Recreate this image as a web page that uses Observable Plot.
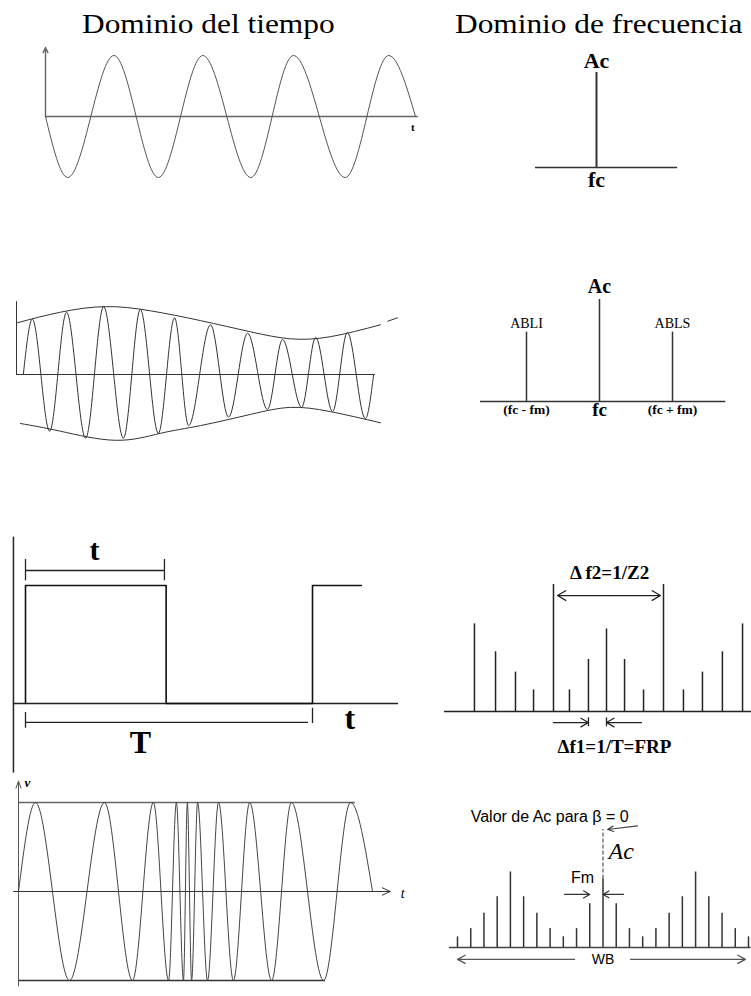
<!DOCTYPE html>
<html><head><meta charset="utf-8">
<script src="https://cdn.jsdelivr.net/npm/d3@7"></script>
<script src="https://cdn.jsdelivr.net/npm/@observablehq/plot@0.6"></script>
<style>
body{margin:0;background:#fff;}
#page{position:relative;width:751px;height:996px;overflow:hidden;background:#fff;}
#page svg{position:absolute;left:0;top:0;}
.title{position:absolute;font-family:"Liberation Serif","Times New Roman",serif;font-size:28px;line-height:1;white-space:nowrap;transform:scaleX(1.12);transform-origin:0 0;color:#000;}
</style></head><body><div id="page"></div>
<script>
// ---------- DATA ----------
const titles = ["Dominio del tiempo", "Dominio de frecuencia"];

// 1) Unmodulated carrier, time domain (extremes, in carrier periods)
const carrierT = [0, 0.24, 0.74, 1.22, 1.70, 2.22, 2.68, 3.24, 3.71, 4.0];
const carrierV = [0, -1, 1, -1, 1, -1, 1, -1, 1, 0];

// 2) Carrier spectrum
const carrierSpecF = [0];
const carrierSpecA = [1];

// 3) AM waveform: carrier extremes and envelopes
const amT = [1.9, 4.4, 9.2, 13.9, 19.2, 24.2, 29.7, 34.4, 39.4, 43.9, 47.8, 53.9, 58.9, 64.2, 69.7, 73.9, 79.2, 83.1, 87.8, 91.9, 96.9, 99.2];
const amV = [0, 0.79, -0.81, 0.89, -0.91, 0.97, -0.91, 0.93, -0.84, 0.81, -0.73, 0.71, -0.61, 0.59, -0.50, 0.50, -0.47, 0.53, -0.53, 0.60, -0.63, 0];
const envUpperT = [0.3, 12.2, 24.7, 37.2, 51.1, 65, 76.1, 87.2, 101.1];
const envUpperV = [0.74, 0.89, 0.97, 0.91, 0.77, 0.61, 0.51, 0.54, 0.71];
const envTailT = [103.1, 105.8];
const envTailV = [0.76, 0.81];
const envLowerT = [1.1, 12.2, 27.5, 40, 51.1, 65, 76.1, 87.2, 101.1];
const envLowerV = [-0.70, -0.81, -0.94, -0.84, -0.73, -0.57, -0.47, -0.53, -0.69];

// 4) AM spectrum
const amSpecF = [-1, 0, 1];
const amSpecA = [0.68, 1, 0.68];
const amSideNames = ["ABLI", "ABLS"];
const amSideF = [-1, 1];
const amSideA = [0.68, 0.68];
const amCarrierName = "Ac";
const amSideFreqLabels = ["(fc - fm)", "(fc + fm)"];
const amCarrierFreqLabel = "fc";

// 5) Pulse train (time in periods T)
const pulseT = [0, 0, 0.49, 0.49, 1, 1, 1.17];
const pulseV = [0, 1, 1, 0, 0, 1, 1];
const pulseWidth = 0.49;
const pulsePeriod = 1;

// 6) Pulse spectrum (harmonic index, relative amplitude)
const pulseSpecF = [-6.95, -5.84, -4.79, -3.84, -2.79, -1.95, -0.95, 0, 0.95, 1.95, 3.0, 4.05, 5.05, 6.1, 7.16];
const pulseSpecA = [0.69, 0.47, 0.31, 0.17, 1.0, 0.17, 0.41, 0.65, 0.41, 0.17, 1.0, 0.17, 0.31, 0.47, 0.69];

// 7) FM waveform extremes (normalized time)
const fmT = [0, 0.048, 0.144, 0.243, 0.322, 0.381, 0.424, 0.446, 0.466, 0.477, 0.489, 0.506, 0.534, 0.565, 0.607, 0.653, 0.715, 0.771, 0.862, 0.938, 1.0];
const fmV = [0, 1, -1, 1, -1, 1, -1, 1, -1, 1, -1, 1, -1, 1, -1, 1, -1, 1, -1, 1, 0];

// 8) FM spectrum (Bessel side bands)
const fmSpecN = [-11, -10, -9, -8, -7, -6, -5, -4, -3, -2, -1, 0, 1, 2, 3, 4, 5, 6, 7, 8, 9, 10, 11];
const fmSpecA = [0.09, 0.16, 0.29, 0.43, 0.64, 0.43, 0.29, 0.16, 0.09, 0.16, 0.37, 0.58, 0.37, 0.16, 0.09, 0.16, 0.29, 0.43, 0.64, 0.43, 0.29, 0.16, 0.09];
const fmAc = 1;

// ---------- HELPERS ----------
const zip = (xs, ys) => xs.map((x, i) => ({x, y: ys[i]}));
const SERIF = "'Liberation Serif', 'Times New Roman', serif";
const SANS = "'Liberation Sans', Arial, sans-serif";
const page = document.getElementById("page");
function panel(xd, xr, yd, yr, marks) {
  const svg = Plot.plot({
    width: 751, height: 996, margin: 0,
    style: {background: "transparent", overflow: "visible"},
    x: {domain: xd, range: xr, axis: null},
    y: {domain: yd, range: yr, axis: null},
    marks
  });
  page.appendChild(svg);
}
const label = (t, o) => Plot.text([t], {text: d => d, fill: "#000", lineAnchor: "bottom", fontFamily: SERIF, ...o});

// titles
[[titles[0], 82], [titles[1], 455]].forEach(([t, left]) => {
  const d = document.createElement("div");
  d.className = "title"; d.textContent = t;
  d.style.left = left + "px"; d.style.top = "10px";
  page.appendChild(d);
});

// 1) carrier
panel([0, 4], [45, 415], [-1, 1], [177, 55], [
  Plot.ruleY([0], {x1: 0, x2: 4.03, stroke: "#666", strokeWidth: 1.6}),
  Plot.arrow([0], {x1: 0, y1: 0, x2: 0, y2: 1.13, stroke: "#666", strokeWidth: 1.4, headLength: 6, headAngle: 50}),
  Plot.line(zip(carrierT, carrierV), {x: "x", y: "y", curve: "monotone-x", stroke: "#555", strokeWidth: 1}),
  label("t", {x: 3.97, y: -0.23, fontSize: 11, fontWeight: "bold"})
]);

// 2) carrier spectrum
panel([-1, 1], [535, 657], [0, 1], [167, 72], [
  Plot.ruleY([0], {x1: -1, x2: 1.33, stroke: "#333", strokeWidth: 1.5}),
  Plot.ruleX(zip(carrierSpecF, carrierSpecA), {x: "x", y1: 0, y2: "y", stroke: "#333", strokeWidth: 2}),
  label("Ac", {x: 0, y: 1.05, fontSize: 22, fontWeight: "bold"}),
  label("fc", {x: 0, y: -0.2, fontSize: 22, fontWeight: "bold"})
]);

// 3) AM waveform
panel([0, 100], [16, 376], [-1, 1], [444, 304], [
  Plot.ruleY([0], {x1: 0, x2: 99.7, stroke: "#333", strokeWidth: 1}),
  Plot.ruleX([0], {y1: 0, y2: 1.04, stroke: "#333", strokeWidth: 1}),
  Plot.line(zip(envUpperT, envUpperV), {x: "x", y: "y", curve: "natural", stroke: "#333", strokeWidth: 1}),
  Plot.line(zip(envTailT, envTailV), {x: "x", y: "y", stroke: "#333", strokeWidth: 1}),
  Plot.line(zip(envLowerT, envLowerV), {x: "x", y: "y", curve: "natural", stroke: "#333", strokeWidth: 1}),
  Plot.line(zip(amT, amV), {x: "x", y: "y", curve: "monotone-x", stroke: "#333", strokeWidth: 1})
]);

// 4) AM spectrum
panel([-1, 1], [526, 672], [0, 1], [401, 299], [
  Plot.ruleY([0], {x1: -1.63, x2: 1.73, stroke: "#333", strokeWidth: 1.5}),
  Plot.ruleX(zip(amSpecF, amSpecA), {x: "x", y1: 0, y2: "y", stroke: "#333", strokeWidth: 1.5}),
  Plot.text(amSideF.map((f, i) => ({f, a: amSideA[i], n: amSideNames[i]})), {x: "f", y: d => d.a + 0.04, text: "n", lineAnchor: "bottom", fontFamily: SERIF, fontSize: 14, fill: "#000"}),
  label(amCarrierName, {x: 0, y: 1.06, fontSize: 20, fontWeight: "bold"}),
  Plot.text(amSideF.map((f, i) => ({f, l: amSideFreqLabels[i]})), {x: "f", y: -0.12, text: "l", lineAnchor: "bottom", fontFamily: SERIF, fontSize: 13.5, fontWeight: "bold", fill: "#000"}),
  label(amCarrierFreqLabel, {x: 0, y: -0.14, fontSize: 19, fontWeight: "bold"})
]);

// 5) pulse train
panel([0, 1], [25, 312], [0, 1], [703, 585], [
  Plot.ruleY([0], {x1: -0.042, x2: 1.30, stroke: "#222", strokeWidth: 1.5}),
  Plot.ruleX([-0.042], {y1: -0.59, y2: 1.41, stroke: "#222", strokeWidth: 1.5}),
  Plot.line(zip(pulseT, pulseV), {x: "x", y: "y", stroke: "#111", strokeWidth: 1.6}),
  Plot.ruleY([1.127], {x1: 0, x2: pulseWidth * 0.988, stroke: "#222", strokeWidth: 1.3}),
  Plot.ruleX([0, pulseWidth * 0.988], {y1: 1.04, y2: 1.22, stroke: "#222", strokeWidth: 1.3}),
  Plot.ruleY([-0.16], {x1: 0, x2: pulsePeriod * 0.986, stroke: "#222", strokeWidth: 1.3}),
  Plot.ruleX([0], {y1: -0.076, y2: -0.21, stroke: "#222", strokeWidth: 1.3}),
  Plot.ruleX([pulsePeriod], {y1: -0.04, y2: -0.17, stroke: "#222", strokeWidth: 1.3}),
  label("t", {x: 0.24, y: 1.22, fontSize: 30, fontWeight: "bold"}),
  label("T", {x: 0.40, y: -0.42, fontSize: 32, fontWeight: "bold"}),
  label("t", {x: 1.13, y: -0.22, fontSize: 32, fontWeight: "bold"})
]);

// 6) pulse spectrum
panel([-7, 7], [473, 739], [0, 1], [711, 584], [
  Plot.ruleY([0], {x1: -8.53, x2: 7.63, stroke: "#222", strokeWidth: 1.5}),
  Plot.ruleX(zip(pulseSpecF, pulseSpecA), {x: "x", y1: 0, y2: "y", stroke: "#222", strokeWidth: 1.5}),
  Plot.arrow([{a: 0.13, b: -2.58}, {a: 0.13, b: 2.84}], {x1: "a", x2: "b", y1: 0.913, y2: 0.913, stroke: "#222", strokeWidth: 1.3, headLength: 11, headAngle: 60}),
  Plot.arrow([{a: -2.79, b: -0.95}, {a: 1.84, b: 0}], {x1: "a", x2: "b", y1: -0.087, y2: -0.087, stroke: "#222", strokeWidth: 1.3, headLength: 10, headAngle: 60}),
  Plot.ruleX([-0.95, 0], {y1: -0.05, y2: -0.12, stroke: "#222", strokeWidth: 1.3}),
  label("Δ f2=1/Z2", {x: 0.16, y: 1.04, fontSize: 19, fontWeight: "bold"}),
  label("Δf1=1/T=FRP", {x: 0.42, y: -0.33, fontSize: 19, fontWeight: "bold"})
]);

// 7) FM waveform
panel([0, 1], [18, 372], [-1, 1], [980, 802], [
  Plot.ruleY([1], {x1: 0, x2: 0.952, stroke: "#666", strokeWidth: 1.3}),
  Plot.ruleY([-1], {x1: 0, x2: 0.867, stroke: "#333", strokeWidth: 1.3}),
  Plot.arrow([0], {x1: -0.014, x2: 1.05, y1: 0, y2: 0, stroke: "#333", strokeWidth: 1, headLength: 13, headAngle: 50}),
  Plot.arrow([0], {x1: 0, x2: 0, y1: -1.06, y2: 1.24, stroke: "#555", strokeWidth: 1, headLength: 11, headAngle: 40}),
  Plot.line(zip(fmT, fmV), {x: "x", y: "y", curve: "monotone-x", stroke: "#444", strokeWidth: 1}),
  label("v", {x: 0.025, y: 1.17, fontSize: 13, fontStyle: "italic", fontWeight: "bold"}),
  label("t", {x: 1.085, y: -0.07, fontSize: 14, fontStyle: "italic"})
]);

// 8) FM spectrum
panel([-11, 11], [457, 748], [0, 1], [947, 829], [
  Plot.ruleY([0], {x1: -11.6, x2: 11.2, stroke: "#444", strokeWidth: 1.5}),
  Plot.ruleX(zip(fmSpecN, fmSpecA), {x: "x", y1: 0, y2: "y", stroke: "#333", strokeWidth: 1.5}),
  Plot.ruleX([0], {y1: 0.58, y2: fmAc, stroke: "#333", strokeWidth: 1, strokeDasharray: "4,2"}),
  Plot.arrow([{a: -2.15, b: -11.0}, {a: 2.08, b: 10.77}], {x1: "a", x2: "b", y1: -0.10, y2: -0.10, stroke: "#555", strokeWidth: 1.3, headLength: 10, headAngle: 55}),
  Plot.arrow([{a: -2.9, b: -1.0}, {a: 1.55, b: 0}], {x1: "a", x2: "b", y1: 0.45, y2: 0.45, stroke: "#333", strokeWidth: 1.2, headLength: 9, headAngle: 60}),
  Plot.arrow([0], {x1: 2.6, y1: 1.03, x2: 0.35, y2: 1.0, stroke: "#444", strokeWidth: 1.2, headLength: 8, headAngle: 50}),
  label("WB", {x: 0, y: -0.10, lineAnchor: "middle", fontSize: 14, fontFamily: SANS}),
  label("Fm", {x: -1.55, y: 0.55, fontSize: 16, fontFamily: SANS}),
  label("Ac", {x: 0.42, y: 0.75, textAnchor: "start", fontSize: 24, fontStyle: "italic"}),
  label("Valor de Ac para β = 0", {x: -10, y: 1.06, textAnchor: "start", fontSize: 16, fontFamily: SANS})
]);
</script></body></html>
